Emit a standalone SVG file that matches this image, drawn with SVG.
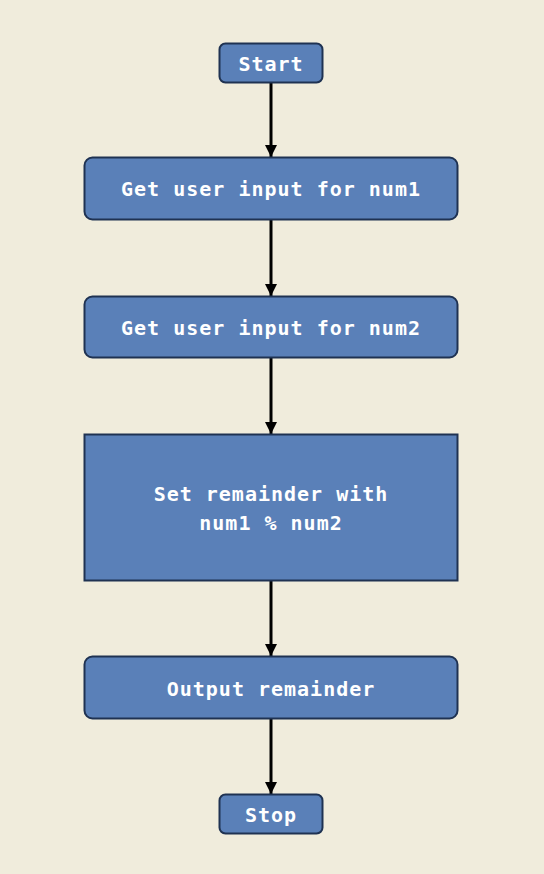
<svg xmlns="http://www.w3.org/2000/svg" width="544" height="874" viewBox="0 0 544 874">
<style>
.n{fill:#5a80b8;stroke:#1f3252;stroke-width:2}
.t{fill:#ffffff;font-family:"DejaVu Sans Mono","Liberation Mono",monospace;font-weight:bold;font-size:20px;letter-spacing:1px;text-anchor:middle;dominant-baseline:central}
.c{stroke:#000;stroke-width:3;fill:none;marker-end:url(#ah)}
</style>
<defs>
<marker id="ah" markerWidth="12" markerHeight="12" refX="12" refY="6" orient="auto" markerUnits="userSpaceOnUse" viewBox="0 0 12 12">
<path d="M0,0 L12,6 L0,12 Z" fill="#000"/>
</marker>
</defs>
<rect width="544" height="874" fill="#f0ecdc"/>
<g id="connectors">
<line class="c" x1="271" y1="83" x2="271" y2="157"/>
<line class="c" x1="271" y1="220" x2="271" y2="296"/>
<line class="c" x1="271" y1="358" x2="271" y2="434"/>
<line class="c" x1="271" y1="581" x2="271" y2="656"/>
<line class="c" x1="271" y1="719" x2="271" y2="794"/>
</g>
<g id="start"><rect class="n" x="219.5" y="43.5" width="103" height="39" rx="6"/><text class="t" x="271" y="64">Start</text></g>
<g id="num1"><rect class="n" x="84.5" y="157.5" width="373" height="62" rx="8"/><text class="t" x="271" y="189">Get user input for num1</text></g>
<g id="num2"><rect class="n" x="84.5" y="296.5" width="373" height="61" rx="8"/><text class="t" x="271" y="328">Get user input for num2</text></g>
<g id="set"><rect class="n" x="84.5" y="434.5" width="373" height="146"/><text class="t" x="271" y="494">Set remainder with</text><text class="t" x="271" y="523">num1 % num2</text></g>
<g id="output"><rect class="n" x="84.5" y="656.5" width="373" height="62" rx="8"/><text class="t" x="271" y="689">Output remainder</text></g>
<g id="stop"><rect class="n" x="219.5" y="794.5" width="103" height="39" rx="6"/><text class="t" x="271" y="815">Stop</text></g>
</svg>
